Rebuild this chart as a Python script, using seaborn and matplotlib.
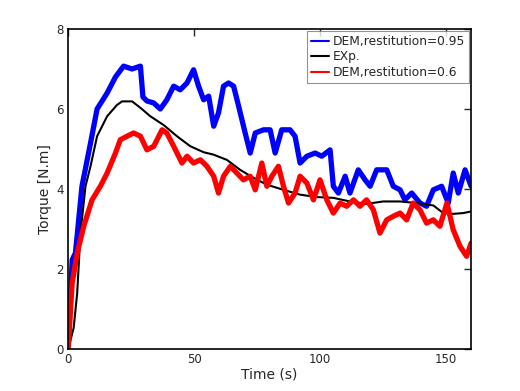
import numpy as np
import pandas as pd
import seaborn as sns
import matplotlib
matplotlib.use("Agg")
import matplotlib.pyplot as plt
from matplotlib.lines import Line2D

# DEM, restitution = 0.95 (blue)
t_blue = [0, 1.6, 2.9, 5.5, 8.9, 11.5, 15.5, 18.8, 22, 25.4, 28.7, 29.7, 31.3, 34, 36.6,
          39.2, 41.9, 44.5, 47.2, 49.8, 51.8, 53.8, 55.8, 57.8, 59.7, 61.7, 63.7, 65.7,
          67.7, 70.3, 72.3, 74.3, 77.6, 80.2, 82.2, 84.8, 88.1, 90.1, 92.1, 94.8, 98.1,
          100.7, 104, 105.3, 107.3, 110, 111.9, 115.2, 117.9, 119.9, 122.5, 126.5, 129.1,
          131.8, 133.7, 136.4, 139.7, 142.3, 145, 148.3, 150.9, 152.9, 154.9, 157.6, 160]
v_blue = [0, 2.23, 2.4, 4.07, 5.15, 6.0, 6.4, 6.8, 7.07, 7.0, 7.07, 6.3, 6.2, 6.15, 6.0,
          6.23, 6.57, 6.48, 6.65, 6.98, 6.57, 6.23, 6.32, 5.57, 5.9, 6.57, 6.65, 6.57,
          6.07, 5.4, 4.9, 5.4, 5.48, 5.48, 4.9, 5.48, 5.48, 5.32, 4.65, 4.82, 4.9,
          4.82, 4.98, 4.07, 3.9, 4.32, 3.9, 4.48, 4.23, 4.07, 4.48, 4.48, 4.07,
          3.98, 3.73, 3.9, 3.65, 3.57, 3.98, 4.07, 3.65, 4.4, 3.9, 4.48, 4.07]

# Experiment (black)
t_exp = [0, 2.2, 3.6, 4.9, 6.9, 8.9, 11.5, 15.5, 19.4, 21.4, 25.4, 28.7, 32.6, 37.9,
         43.2, 48.5, 53.8, 57.7, 63, 68.3, 73.6, 78.9, 85.5, 92.1, 98.7, 105.3, 111.9,
         118.5, 125.1, 131.8, 138.4, 145, 148.9, 152.9, 156.9, 160]
v_exp = [0, 0.53, 1.4, 2.9, 4.07, 4.57, 5.32, 5.82, 6.1, 6.19, 6.19, 6.03, 5.82, 5.6,
         5.32, 5.07, 4.92, 4.86, 4.73, 4.48, 4.28, 4.11, 3.98, 3.86, 3.8, 3.78, 3.69,
         3.63, 3.69, 3.69, 3.65, 3.59, 3.4, 3.38, 3.4, 3.44]

# DEM, restitution = 0.6 (red)
t_red = [0, 1.6, 3.6, 6.2, 9.5, 12.8, 15.5, 18.8, 20.7, 23.4, 26, 28.7, 31.3, 34, 37.3,
         39.2, 41.9, 45.2, 47.2, 49.8, 52.5, 55.1, 57.8, 59.7, 61.7, 64.4, 67, 69.6,
         72.3, 74.3, 76.9, 78.9, 80.9, 83.5, 85.5, 87.5, 90.1, 92.1, 94.8, 97.4, 100,
         102.7, 105.3, 108, 110.6, 113.3, 115.9, 118.5, 121.2, 123.8, 126.5, 129.1,
         131.8, 134.4, 137, 139.7, 142.3, 145, 147.6, 150.4, 152.9, 155.6, 158.2, 160]
v_red = [0, 1.65, 2.4, 3.07, 3.73, 4.07, 4.4, 4.9, 5.23, 5.32, 5.4, 5.32, 4.98, 5.07, 5.48,
         5.4, 5.07, 4.65, 4.82, 4.65, 4.73, 4.57, 4.32, 3.9, 4.32, 4.57, 4.4, 4.23,
         4.32, 3.98, 4.65, 4.07, 4.32, 4.57, 4.07, 3.65, 3.9, 4.32, 4.15, 3.73, 4.23,
         3.73, 3.4, 3.65, 3.57, 3.73, 3.57, 3.73, 3.48, 2.9, 3.23, 3.32,
         3.4, 3.23, 3.65, 3.48, 3.15, 3.23, 3.07, 3.65, 2.98, 2.57, 2.32, 2.65]

labels = ['DEM,restitution=0.95', 'EXp.', 'DEM,restitution=0.6']

df = pd.concat([
    pd.DataFrame({'t': t_blue, 'v': v_blue, 'series': labels[0]}),
    pd.DataFrame({'t': t_exp, 'v': v_exp, 'series': labels[1]}),
    pd.DataFrame({'t': t_red, 'v': v_red, 'series': labels[2]}),
])

sns.set_style("white")
plt.rcParams['font.family'] = ['DejaVu Sans']

fig = plt.figure(figsize=(5.2, 3.91), dpi=100)
ax = fig.add_axes([0.131, 0.107, 0.775, 0.819])

palette = {labels[0]: '#0000ff', labels[1]: '#000000', labels[2]: '#ff0000'}
sns.lineplot(data=df, x='t', y='v', hue='series', palette=palette, sort=False,
             estimator=None, ax=ax, legend=False)
widths = [3.8, 1.5, 3.8]
for line, w in zip(ax.lines, widths):
    line.set_linewidth(w)
    line.set_solid_joinstyle('round')

ax.set_xlim(0, 160)
ax.set_ylim(0, 8)
ax.set_xticks([0, 50, 100, 150])
ax.set_yticks([0, 2, 4, 6, 8])
ax.tick_params(direction='in', top=True, right=True, length=5, width=1,
               labelsize=8.5, pad=3)
for s in ax.spines.values():
    s.set_color('black')
    s.set_linewidth(1.2)
ax.set_xlabel('Time (s)', fontsize=10, labelpad=1)
ax.set_ylabel('Torque [N.m]', fontsize=10, labelpad=3)

handles = [Line2D([], [], color=palette[l], lw=1.5) for l in labels]
leg = ax.legend(handles, labels, loc='upper right', fontsize=8.8, frameon=True,
                fancybox=False, handlelength=1.5, handletextpad=0.3,
                borderpad=0.3, labelspacing=0.2, borderaxespad=0.2)
leg.get_frame().set_edgecolor('#777777')
leg.get_frame().set_linewidth(0.8)

fig.savefig('out.png', dpi=100)
